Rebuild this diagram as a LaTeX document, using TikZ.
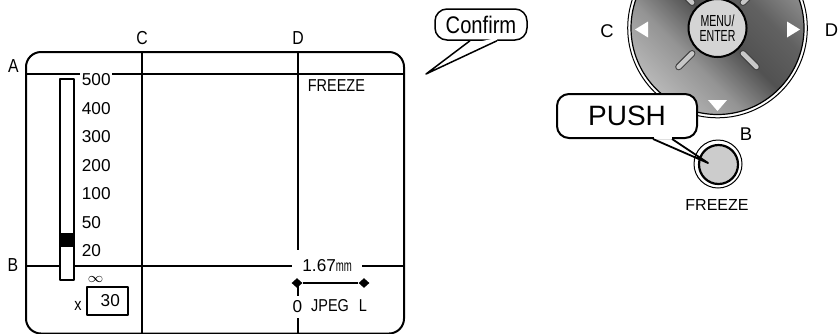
\documentclass[tikz,border=0pt]{standalone}
\usepackage{fontspec}
\setmainfont{Liberation Sans}
\newfontfamily\scrfont[FakeStretch=0.84]{Liberation Sans}
\newfontfamily\keyfont[FakeStretch=0.66]{Liberation Sans}
\newfontfamily\unitfont[FakeStretch=0.6]{Liberation Sans}
\usetikzlibrary{calc,shapes.geometric}
\pgfdeclarehorizontalshading{dialmetal}{100bp}{color(0bp)=(black!28); color(25bp)=(black!28); color(38bp)=(black!42); color(50bp)=(black!68); color(62bp)=(black!62); color(75bp)=(black!42); color(100bp)=(black!42)}
\tikzset{
  guide/.style={line width=1pt},
  scrtxt/.style={inner sep=0.75pt, font=\scrfont\fontsize{8.6}{10}\selectfont},
  scrnum/.style={inner sep=0.75pt, font=\fontsize{8.6}{10}\selectfont},
  axislbl/.style={inner sep=0pt, font=\scrfont\fontsize{9.4}{10}\selectfont},
  keylbl/.style={inner sep=0pt, font=\fontsize{9.2}{10}\selectfont},
  bubble/.style={draw, fill=white, rounded corners=6pt, inner sep=0pt},
  jpegend/.style={diamond, fill, inner sep=0pt, minimum width=5.5pt, minimum height=5pt},
}
\begin{document}
\begin{tikzpicture}[x=0.5pt, y=-0.5pt, line join=round]
  \useasboundingbox (0,0) rectangle (838,333);
  \clip (0,0) rectangle (838,333);
  % === Screen frame and guide lines ===
  \draw[line width=1pt, rounded corners=7.5pt] (26,52) rectangle (404,333.5);
  \draw[guide] (26,74) -- (404,74);     % A
  \draw[guide] (26,266) -- (404,266);   % B
  \draw[guide] (142,52) -- (142,333);   % C
  \draw[guide] (298,52) -- (298,333);   % D
  \node[axislbl] (labA) at (13.5,66) {A};
  \node[axislbl] (labB) at (13,265) {B};
  \node[axislbl] (labC) at (142,38) {C};
  \node[axislbl] (labD) at (298,38) {D};
  % === Zoom scale ===
  \draw[line width=1pt, fill=white] (60,79) rectangle (74,280);
  \fill (60,233) rectangle (74,247);
  \foreach \val [count=\i from 0] in {500,400,300,200,100,50,20}
    \node[scrnum, anchor=west, fill=white] (zoom\val) at (80,80+28.5*\i) {\val};
  \node[inner sep=0pt, font=\fontsize{7.5}{8}\selectfont] (zoominf) at (95.5,279) {$\infty$};
  \node[draw, line width=0.75pt, minimum width=20.5pt, minimum height=14pt, inner sep=0pt] (zoombox) at (107.5,301) {};
  \node[scrnum, anchor=east] (zoomval) at ([xshift=-3.5pt]zoombox.east) {30};
  \node[scrtxt] (zoomx) at (78,306) {x};
  % === Screen texts ===
  \node[scrtxt, anchor=west] (frzscr) at (306,86) {FREEZE};
  \node[scrnum, anchor=west, fill=white, inner xsep=5pt, minimum height=16pt] (dist) at (292,266) {1.67{\unitfont\fontsize{8}{8}\selectfont mm}};
  \node[jpegend] (jpgleft) at (297,283) {};
  \node[jpegend] (jpgright) at (364,283) {};
  \draw[line width=1pt] (jpgleft) -- (jpgright);
  \node[scrnum, fill=white, inner xsep=1pt, minimum height=11pt] (jpgzero) at (297.5,307) {0};
  \node[scrtxt] (jpgname) at (330,306) {JPEG};
  \node[scrtxt] (jpgsize) at (363,306) {L};
  % === Confirm bubble ===
  \node[bubble, line width=0.75pt, minimum width=46pt, minimum height=15.5pt, font=\scrfont\fontsize{12}{13}\selectfont] (confirm) at (481,24.5) {Confirm};
  \coordinate (confirmtip) at (426,74);
  \fill[white] ([xshift=-5.5pt]confirm.south) -- ++(0,3) -- ([xshift=8pt,yshift=1.5pt]confirm.south) -- ([xshift=8pt]confirm.south) -- (confirmtip) -- cycle;
  \draw[line width=0.75pt] ([xshift=-5.5pt]confirm.south) -- (confirmtip) -- ([xshift=8pt]confirm.south);
  % === Dial ===
  \coordinate (dialc) at (717.5,28);
  \shade[shading=dialmetal, shading angle=45] (dialc) circle[radius=43.25pt];
  \draw[line width=0.6pt] (dialc) circle[radius=43.25pt];
  \draw[line width=0.5pt] (dialc) circle[radius=44.9pt];
  \foreach \ang in {45,135,225,315} {
    \draw[line width=3.4pt, black!75, line cap=round] ($(dialc)+(\ang:18pt)$) -- ($(dialc)+(\ang:27.5pt)$);
    \draw[line width=2.3pt, black!22, line cap=round] ($(dialc)+(\ang:18pt)$) -- ($(dialc)+(\ang:27.5pt)$);
  }
  \node[circle, draw, line width=1pt, fill=black!17, minimum size=29pt, inner sep=0pt, align=center, font=\keyfont\fontsize{8}{7.8}\selectfont] (menu) at (dialc) {MENU/\\ENTER};
  \fill[white] (635,29.5) -- (648,21.5) -- (648,37.5) -- cycle;
  \fill[white] (800,29.5) -- (787,21.5) -- (787,37.5) -- cycle;
  \fill[white] (717.5,111) -- (708,100) -- (727,100) -- cycle;
  \node[keylbl] (keyC) at (607,31) {C};
  \node[keylbl] (keyD) at (831.5,30) {D};
  % === FREEZE button ===
  \coordinate (frzc) at (718,164);
  \draw[line width=0.5pt] (frzc) circle[radius=12pt];
  \node[circle, draw, line width=1.1pt, fill=black!20, minimum size=19.5pt, inner sep=0pt] (frzbtn) at (718.5,164.5) {};
  \node[keylbl] (keyB) at (746,134) {B};
  \node[inner sep=0pt, font=\fontsize{8}{9}\selectfont] (frzlbl) at (717,205) {FREEZE};
  % === PUSH bubble ===
  \node[bubble, line width=1pt, minimum width=70pt, minimum height=22pt, font=\fontsize{14}{16}\selectfont] (push) at (627,116) {PUSH};
  \coordinate (pushtip) at (708,163);
  \fill[white] ($(push.south)+(26.5,-3)$) rectangle ($(push.south)+(44.5,0)$);
  \draw[line width=0.9pt] ($(push.south)+(26,0)$) -- (pushtip) -- ($(push.south)+(45,0)$);
\end{tikzpicture}
\end{document}
